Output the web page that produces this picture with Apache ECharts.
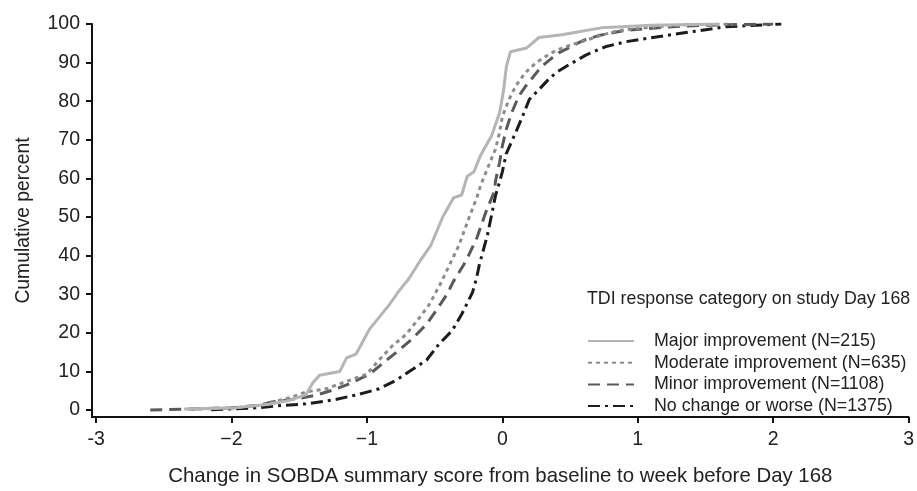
<!DOCTYPE html>
<html>
<head>
<meta charset="utf-8">
<title>Cumulative distribution of SOBDA change</title>
<script src="https://cdn.jsdelivr.net/npm/echarts@6/dist/echarts.min.js"></script>
<style>
  html, body { margin: 0; padding: 0; background: #fff; }
  #main { width: 917px; height: 491px; }
</style>
</head>
<body>
<div id="main"></div>
<script>
// --- data: [change in score, cumulative percent] ---
const majorPts = [
    [-2.35, 0.3], [-2.0, 0.5], [-1.72, 1.5], [-1.57, 2.5], [-1.45, 4], [-1.40, 7], [-1.35, 9],
    [-1.20, 10], [-1.15, 13.5], [-1.08, 14.5], [-0.98, 21], [-0.91, 24], [-0.83, 27.5],
    [-0.76, 31], [-0.69, 34], [-0.61, 38.5], [-0.53, 42.5], [-0.44, 50], [-0.36, 55],
    [-0.30, 55.7], [-0.26, 60.5], [-0.21, 61.7], [-0.16, 66], [-0.08, 71], [-0.02, 77],
    [0.01, 83], [0.03, 89], [0.06, 92.8], [0.18, 93.8], [0.22, 95], [0.27, 96.5],
    [0.44, 97.2], [0.73, 99], [1.10, 99.7], [1.6, 100]
];
const moderatePts = [
    [-2.3, 0.2], [-2.0, 0.5], [-1.8, 1.2], [-1.65, 2.5], [-1.55, 3.4], [-1.45, 4.7], [-1.3, 5.5],
    [-1.2, 6.8], [-1.0, 9.3], [-0.91, 13], [-0.81, 16.7], [-0.71, 19.6], [-0.61, 24],
    [-0.54, 27.3], [-0.46, 32.5], [-0.39, 37.6], [-0.32, 42.7], [-0.24, 50.4], [-0.19, 54.8],
    [-0.16, 58.2], [-0.12, 61.7], [-0.08, 65.1], [-0.05, 67.6], [-0.02, 72], [0.0, 76],
    [0.05, 80.5], [0.10, 84], [0.17, 87.4], [0.25, 90], [0.32, 91.6], [0.40, 93.2],
    [0.50, 94.5], [0.62, 95.8], [0.74, 97.2], [0.86, 98.3], [1.1, 99.2], [1.35, 99.8], [1.7, 100]
];
const minorPts = [
    [-2.6, 0], [-2.3, 0.3], [-2.0, 0.6], [-1.8, 1.2], [-1.70, 2.1], [-1.52, 2.9], [-1.37, 3.9],
    [-1.25, 5.2], [-1.13, 6.8], [-0.98, 9.3], [-0.89, 11.9], [-0.78, 15], [-0.67, 18.3],
    [-0.56, 22.2], [-0.49, 25.7], [-0.41, 29.9], [-0.36, 33.4], [-0.27, 38.5], [-0.19, 44.4],
    [-0.12, 51.4], [-0.06, 56.5], [-0.05, 59.4], [-0.02, 64.2], [0.0, 68.4], [0.03, 72.8],
    [0.07, 77.1], [0.12, 81.2], [0.17, 83.8], [0.23, 86.4], [0.29, 89], [0.37, 91.3],
    [0.42, 92.6], [0.5, 94], [0.6, 95.8], [0.71, 97], [0.9, 98.3], [1.2, 99.2], [1.5, 99.7], [2.0, 100]
];
const noChangePts = [
    [-2.15, 0.1], [-1.84, 0.5], [-1.62, 1.2], [-1.45, 1.6], [-1.25, 2.6], [-1.08, 3.9],
    [-0.91, 5.5], [-0.78, 7.8], [-0.67, 10.4], [-0.56, 12.9], [-0.47, 17], [-0.37, 20.6],
    [-0.30, 24.8], [-0.22, 30.5], [-0.19, 34.2], [-0.17, 37.6], [-0.11, 45.3], [-0.08, 50.4],
    [-0.05, 55.6], [-0.02, 59.1], [0.0, 61.7], [0.03, 66.5], [0.10, 72], [0.14, 75.3],
    [0.20, 80.5], [0.27, 83], [0.34, 85.6], [0.40, 87.5], [0.49, 89.4], [0.62, 92],
    [0.76, 94.1], [0.91, 95.4], [1.15, 96.7], [1.40, 98], [1.65, 99.3], [2.06, 100]
];

const seriesNames = [
    'Major improvement (N=215)',
    'Moderate improvement (N=635)',
    'Minor improvement (N=1108)',
    'No change or worse (N=1375)'
];
const xTicks = [-3, -2, -1, 0, 1, 2, 3];
const xTickLabels = ['-3', '\u22122', '\u22121', '0', '1', '2', '3'];
const yTicks = [0, 10, 20, 30, 40, 50, 60, 70, 80, 90, 100];

// line looks for each group
const lineLooks = [
    { color: '#b5b5b5', type: 'solid' },
    { color: '#8c8c8c', type: [4, 4] },
    { color: '#5a5a5a', type: [12, 7] },
    { color: '#1c1c1c', type: [12, 5, 3, 5] }
];
const allPts = [majorPts, moderatePts, minorPts, noChangePts];

var FONT = '"Liberation Sans", Arial, Helvetica, sans-serif';
var TXT = '#222';

var myChart = echarts.init(document.getElementById('main'));

var option = {
    animation: false,
    backgroundColor: '#fff',
    textStyle: { fontFamily: FONT, color: TXT },
    grid: { left: 92, right: 6, top: 24, bottom: 71 },
    title: {
        text: 'TDI response category on study Day 168',
        left: 582,
        top: 285,
        textStyle: { fontFamily: FONT, fontSize: 17.8, fontWeight: 'normal', color: TXT }
    },
    legend: {
        orient: 'vertical',
        left: 587,
        top: 332,
        itemWidth: 46,
        itemHeight: 12,
        itemGap: 3.7,
        padding: 0,
        data: seriesNames,
        itemStyle: { opacity: 0 },
        textStyle: { fontFamily: FONT, fontSize: 17.8, color: TXT, padding: [0, 0, 0, 15] }
    },
    xAxis: {
        type: 'value',
        min: -3.03,
        max: 3,
        name: 'Change in SOBDA summary score from baseline to week before Day 168',
        nameLocation: 'middle',
        nameGap: 49,
        nameTextStyle: { fontFamily: FONT, fontSize: 20.4, color: TXT },
        axisLine: { onZero: false, lineStyle: { color: '#111', width: 2 } },
        axisTick: { show: true, length: 6, lineStyle: { color: '#111', width: 2 }, customValues: xTicks },
        axisLabel: {
            fontFamily: FONT, fontSize: 19.5, color: TXT, margin: 13,
            customValues: xTicks,
            formatter: function (v) { return xTickLabels[xTicks.indexOf(Math.round(v))]; }
        },
        splitLine: { show: false }
    },
    yAxis: {
        type: 'value',
        min: -1.8,
        max: 100,
        name: 'Cumulative percent',
        nameLocation: 'middle',
        nameGap: 59,
        nameTextStyle: { fontFamily: FONT, fontSize: 19.3, color: TXT },
        axisLine: { show: true, onZero: false, lineStyle: { color: '#111', width: 2 } },
        axisTick: { show: true, length: 6, lineStyle: { color: '#111', width: 2 }, customValues: yTicks },
        axisLabel: { fontFamily: FONT, fontSize: 19.5, color: TXT, margin: 12, customValues: yTicks },
        splitLine: { show: false }
    },
    series: allPts.map(function (pts, i) {
        return {
            name: seriesNames[i],
            type: 'line',
            data: pts,
            symbol: 'none',
            z: 10 - i,
            lineStyle: { color: lineLooks[i].color, width: 3, type: lineLooks[i].type },
            itemStyle: { color: lineLooks[i].color }
        };
    })
};

myChart.setOption(option);

window.addEventListener('resize', function () {
    myChart.resize();
});
</script>
</body>
</html>
